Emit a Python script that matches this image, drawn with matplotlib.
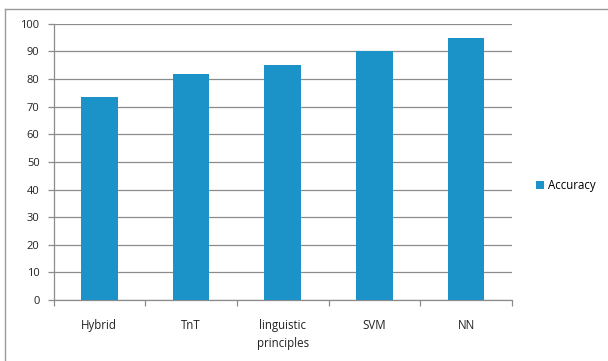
import matplotlib.pyplot as plt
from matplotlib.lines import Line2D
from matplotlib.patches import Patch

methods = ['Hybrid', 'TnT', 'linguistic\nprinciples', 'SVM', 'NN']
accuracy = [73.5, 82, 85, 90, 95]
yticks = list(range(0, 101, 10))

bar_color = '#1b93c9'
grid_color = '#8c8c8c'

plt.rcParams['font.family'] = ['Open Sans', 'DejaVu Sans']

fig = plt.figure(figsize=(6.08, 3.61), dpi=100)
ax = fig.add_axes([0.088, 0.169, 0.754, 0.765])

x = range(len(methods))
ax.bar(x, accuracy, width=0.4, color=bar_color, zorder=3)

ax.set_ylim(0, 100)
ax.set_xlim(-0.5, len(methods) - 0.5)
ax.set_yticks(yticks)
ax.yaxis.grid(True, color=grid_color, linewidth=0.9, zorder=0)

# category labels centred, tick marks at category boundaries
ax.set_xticks(list(x))
ax.set_xticklabels(methods, fontsize=8.3, color='#222222', linespacing=1.5)
ax.tick_params(axis='x', length=0, pad=14)
ax.set_xticks([i - 0.5 for i in range(len(methods) + 1)], minor=True)
ax.tick_params(axis='x', which='minor', length=4, color=grid_color, width=0.9)
ax.tick_params(axis='y', length=4, color=grid_color, width=0.9, labelsize=8,
               labelcolor='#222222', pad=6)

for side in ['top', 'right']:
    ax.spines[side].set_visible(False)
for side in ['left', 'bottom']:
    ax.spines[side].set_color(grid_color)
    ax.spines[side].set_linewidth(0.9)

handles = [Patch(facecolor=bar_color, edgecolor='none', label='Accuracy')]
fig.legend(handles=handles, loc='center left', bbox_to_anchor=(0.865, 0.485),
           frameon=False, fontsize=8.3, handlelength=0.7, handleheight=0.7,
           handletextpad=0.3)

# outer chart border (top and left edges visible)
fig.add_artist(Line2D([5 / 608, 1], [1 - 9 / 361, 1 - 9 / 361],
                      transform=fig.transFigure, color='#9a9a9a', linewidth=1))
fig.add_artist(Line2D([5 / 608, 5 / 608], [0, 1 - 9 / 361],
                      transform=fig.transFigure, color='#9a9a9a', linewidth=1))

fig.savefig('out.png', dpi=100)
